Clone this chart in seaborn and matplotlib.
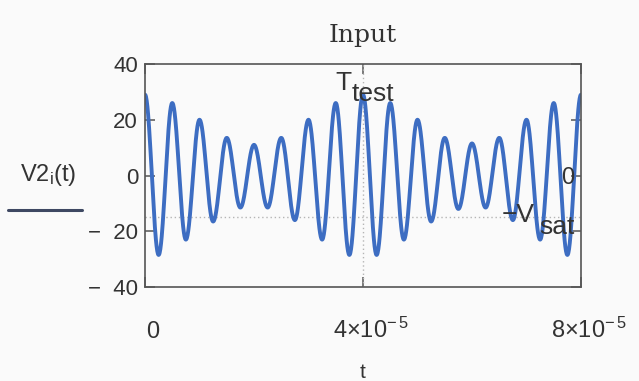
import numpy as np
import pandas as pd
import matplotlib
matplotlib.use("Agg")
import matplotlib.pyplot as plt
import matplotlib.transforms as mtransforms
from matplotlib.lines import Line2D
import seaborn as sns

# ---- data ----
# times of successive extrema (microseconds) and their values
extrema_time_us = [0, 2.5, 5, 7.5, 10, 12.5, 15, 17.5, 20, 22.5, 25, 27.5, 30, 32.5,
                   35, 37.5, 40, 42.5, 45, 47.5, 50, 52.5, 55, 57.5, 60, 62.5, 65,
                   67.5, 70, 72.5, 75, 77.5, 80]
extrema_value = [29, -28.5, 26, -23, 20, -16.5, 13.5, -11.5, 11, -11.5, 13.5, -16,
                 20, -23, 26, -28.5, 29, -28.5, 26, -23, 20, -16.5, 13.5, -12, 11.5,
                 -11.5, 13.5, -16, 20, -23, 26, -28.5, 29]
T_TEST = 4e-5
V_SAT = 15
x_ticks = [0, 4e-5, 8e-5]
x_tick_labels = ["0", "4×10$^{-\\,5}$", "8×10$^{-\\,5}$"]
y_ticks = [-40, -20, 0, 20, 40]
y_tick_labels = ["−  40", "−  20", "0", "20", "40"]
title = "Input"
legend_label = "V2$_{\\mathregular{i}}$(t)"

# smooth trace through the extrema (half-cosine between successive extrema)
t_pts, v_pts = [], []
for i in range(len(extrema_value) - 1):
    t0, t1 = extrema_time_us[i] * 1e-6, extrema_time_us[i + 1] * 1e-6
    v0, v1 = extrema_value[i], extrema_value[i + 1]
    u = np.linspace(0, 1, 40, endpoint=False)
    t_pts.extend(t0 + (t1 - t0) * u)
    v_pts.extend((v0 + v1) / 2 + (v0 - v1) / 2 * np.cos(np.pi * u))
t_pts.append(extrema_time_us[-1] * 1e-6)
v_pts.append(extrema_value[-1])
df = pd.DataFrame({"t": t_pts, "V": v_pts})

# ---- style ----
sns.set_theme(style="ticks")
plt.rcParams["font.family"] = ["Liberation Sans", "DejaVu Sans"]
plt.rcParams["mathtext.fontset"] = "custom"
plt.rcParams["mathtext.rm"] = "Liberation Sans"
plt.rcParams["mathtext.it"] = "Liberation Sans:italic"
plt.rcParams["mathtext.bf"] = "Liberation Sans:bold"

TEXT = "#333333"
LINE = "#3d6dc2"
BORDER = "#555555"

fig = plt.figure(figsize=(6.39, 3.81), dpi=100, facecolor="#fafafa")
W, H = 639, 381
ax = fig.add_axes([145 / W, 1 - 287 / H, (581 - 145) / W, (287 - 64) / H])
ax.set_facecolor("#fafafa")

sns.lineplot(data=df, x="t", y="V", ax=ax, color=LINE, lw=2.8, sort=False)

ax.axvline(T_TEST, color="#b5b5b5", lw=1, ls=(0, (1, 2)), zorder=1)
ax.axhline(-V_SAT, color="#b5b5b5", lw=1, ls=(0, (1, 2)), zorder=1)

ax.set_xlim(0, 8e-5)
ax.set_ylim(-40, 40)
ax.set_xticks(x_ticks)
ax.set_xticklabels(x_tick_labels, fontsize=17, color=TEXT)
ax.set_yticks(y_ticks)
ax.set_yticklabels(y_tick_labels, fontsize=16, color=TEXT)
ax.tick_params(axis="both", direction="in", length=7, width=1.1, color=BORDER,
               top=True, right=True)
ax.tick_params(axis="y", pad=5)
ax.tick_params(axis="x", pad=37)
off = mtransforms.ScaledTranslation(8 / 100, 0, fig.dpi_scale_trans)
for lab in ax.get_xticklabels():
    lab.set_va("baseline")
    lab.set_transform(lab.get_transform() + off)
for s in ax.spines.values():
    s.set_color(BORDER)
    s.set_linewidth(1.2)

ax.set_xlabel("t", fontsize=15, color=TEXT, labelpad=14)
ax.set_ylabel("")
ax.set_title(title, fontsize=18, family="DejaVu Serif", color=TEXT, pad=16)

# marker labels
def lab(txt, xy, dx, dy, ha, size=19):
    ax.annotate(txt, xy=xy, xycoords="data", xytext=(dx, dy),
                textcoords="offset pixels", ha=ha, va="baseline",
                fontsize=size, color=TEXT, annotation_clip=False)

lab("T", (T_TEST, 40), -11, -26, "right")
lab("test", (T_TEST, 40), -11, -37, "left")
lab("−V", (8e-5, -V_SAT), -46, -5, "right")
lab("sat", (8e-5, -V_SAT), -6, -17, "right")
lab("0", (8e-5, 0), -7, -8, "right", size=17)

# legend
fig.text(20 / W, 1 - 181 / H, legend_label, fontsize=17, color=TEXT,
         ha="left", va="baseline")
fig.add_artist(Line2D([8 / W, 82 / W], [1 - 210 / H, 1 - 210 / H],
                      color="#3e4862", lw=2.2, transform=fig.transFigure))

fig.savefig("out.png", dpi=100, facecolor=fig.get_facecolor())
